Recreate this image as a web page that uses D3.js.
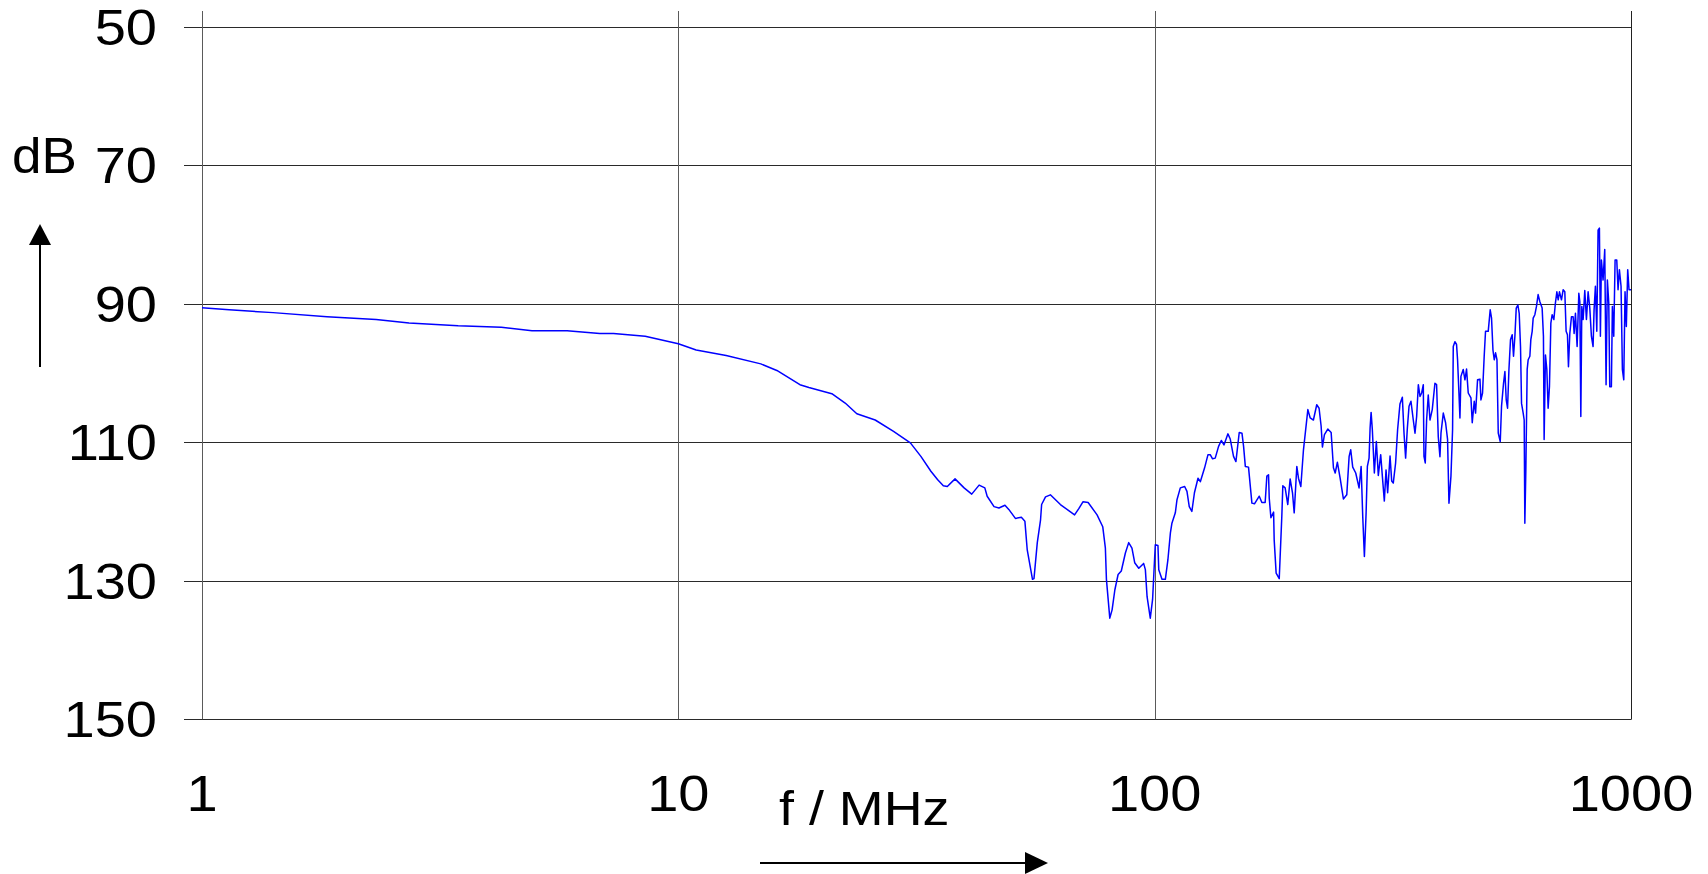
<!DOCTYPE html>
<html>
<head>
<meta charset="utf-8">
<script src="https://cdn.jsdelivr.net/npm/d3@7"></script>
<style>
    body { margin: 0; background: #fff; }
    text { font-family: "Liberation Sans", Arial, sans-serif; fill: #000; }
</style>
</head>
<body>
<div id="chart"></div>
<script>
// measured spectrum, f in MHz / level in dB
var freqMHz = [
    1, 1.14, 1.41, 1.83, 2.32, 2.72, 3.45, 4.25, 4.93, 5.84, 6.84, 7.31, 8.52, 10.0, 10.9, 12.6, 14.9, 16.1, 18.0, 18.8,
    21.0, 22.4, 23.7, 25.9, 28.3, 30.7, 32.3, 33.9, 35.0, 36.0, 36.7, 38.1, 39.8, 41.3, 42.8, 44.0, 44.5, 46.0, 47.1, 48.5,
    49.4, 51.0, 52.5, 53.4, 54.0, 55.4, 55.8, 56.7, 57.6, 57.9, 59.0, 60.4, 63.4, 67.9, 69.3, 70.7, 72.5, 75.7, 77.8, 78.8,
    79.2, 80.5, 81.4, 82.5, 83.8, 85.1, 86.8, 88.2, 89.6, 90.8, 92.6, 94.8, 95.6, 96.4, 97.9, 99.0, 100.3, 101.6, 102.0, 103.6,
    105.3, 106.6, 107.9, 108.7, 110.5, 111.4, 113.2, 115.6, 116.9, 118.2, 119.7, 121.2, 123.3, 124.7, 127.3, 129.4, 130.8, 132.3, 134.0, 136.2,
    138.0, 139.8, 142.5, 144.1, 146.4, 148.1, 150.5, 152.5, 153.7, 155.0, 157.4, 160.0, 162.0, 165.8, 167.9, 170.6, 172.0, 173.4, 174.0, 175.4,
    177.7, 178.2, 179.9, 182.6, 184.9, 185.8, 187.9, 190.3, 192.5, 194.7, 196.3, 198.8, 200.4, 202.7, 205.3, 209.7, 212.1, 215.4, 218.9, 221.4,
    223.6, 225.0, 227.2, 230.9, 234.7, 237.3, 239.3, 241.9, 245.1, 249.0, 253.1, 256.0, 258.0, 260.5, 264.3, 268.6, 271.3, 273.4, 275.6, 277.9,
    279.6, 281.9, 283.3, 284.7, 286.4, 289.2, 292.0, 294.8, 298.2, 300.6, 303.5, 306.0, 308.4, 312.0, 314.5, 316.9, 320.5, 323.6, 327.3, 331.1,
    333.8, 336.4, 339.2, 342.0, 345.2, 349.1, 352.0, 354.8, 357.7, 360.6, 363.5, 366.4, 367.6, 369.9, 372.3, 375.3, 378.4, 382.6, 387.6, 390.7,
    393.9, 397.1, 399.1, 403.6, 408.1, 412.0, 414.8, 418.8, 422.1, 423.5, 426.9, 430.3, 432.4, 435.3, 437.4, 439.5, 444.4, 448.1, 451.6, 455.3,
    461.3, 464.2, 468.7, 471.7, 476.3, 481.8, 484.1, 487.9, 491.8, 495.0, 501.5, 506.3, 509.6, 513.1, 516.3, 519.6, 523.1, 526.4, 531.5, 534.8,
    540.0, 543.6, 547.1, 550.6, 554.3, 558.5, 563.1, 566.7, 570.5, 574.2, 578.8, 582.5, 586.2, 589.1, 593.8, 596.7, 598.6, 601.5, 605.4, 608.3,
    613.3, 616.2, 620.2, 623.2, 628.3, 633.2, 638.3, 643.5, 650.8, 654.9, 657.1, 661.3, 665.7, 669.9, 674.2, 678.8, 683.1, 688.7, 694.0, 698.8,
    703.3, 707.7, 714.5, 720.3, 726.2, 730.8, 735.5, 739.1, 744.0, 749.9, 755.9, 759.6, 764.5, 770.7, 777.1, 780.8, 784.6, 788.4, 793.4, 799.8,
    806.2, 812.8, 819.4, 825.8, 832.5, 836.5, 841.9, 847.6, 852.9, 858.4, 862.5, 866.7, 873.7, 880.8, 886.5, 892.1, 898.1, 902.4, 909.5, 913.9,
    920.0, 926.0, 933.5, 939.3, 945.4, 953.0, 959.2, 965.6, 971.6, 977.7, 984.2, 990.5, 1000
];
var levelDb = [
    90.6, 90.9, 91.3, 91.9, 92.3, 92.8, 93.2, 93.4, 93.9, 93.9, 94.3, 94.3, 94.7, 95.8, 96.7, 97.5, 98.7, 99.65, 101.7, 102.1,
    103.0, 104.35, 105.9, 106.8, 108.45, 110.1, 112.05, 114.2, 115.4, 116.3, 116.4, 115.3, 116.6, 117.5, 116.2, 116.6, 117.8, 119.3, 119.5, 119.1,
    119.7, 121.0, 120.85, 121.4, 125.5, 129.8, 129.7, 124.5, 121.2, 119.0, 117.9, 117.6, 119.0, 120.5, 119.6, 118.6, 118.7, 120.5, 122.2, 125.3,
    129.8, 135.4, 134.2, 131.3, 129.1, 128.6, 126.0, 124.5, 125.3, 127.4, 128.2, 127.5, 128.4, 132.3, 135.4, 132.7, 124.8, 124.9, 128.4, 129.8,
    129.8, 127.0, 123.1, 121.7, 120.2, 118.3, 116.6, 116.4, 117.1, 119.3, 120.0, 117.3, 115.2, 115.7, 113.7, 111.8, 111.8, 112.4, 112.3, 110.6,
    109.75, 110.4, 108.8, 109.55, 112.05, 112.8, 108.6, 108.7, 110.6, 113.5, 113.6, 118.8, 118.9, 117.8, 118.7, 118.7, 114.9, 114.7, 118.1, 120.9,
    120.1, 124.1, 128.9, 129.7, 120.7, 116.3, 116.6, 119.0, 115.3, 117.3, 120.2, 113.5, 115.2, 116.4, 111.1, 105.3, 106.5, 106.8, 104.6, 105.1,
    107.7, 110.7, 108.9, 108.1, 108.6, 113.7, 114.45, 112.9, 115.2, 118.2, 117.6, 112.05, 111.1, 113.6, 114.45, 116.6, 113.5, 120.7, 126.5, 120.2,
    113.5, 112.3, 108.0, 105.7, 108.2, 114.45, 109.9, 114.8, 111.8, 114.9, 118.5, 114.0, 117.3, 112.0, 115.6, 115.9, 113.0, 108.2, 104.5, 103.5,
    108.7, 112.3, 108.0, 104.8, 104.1, 106.8, 108.7, 106.3, 101.7, 103.4, 102.9, 101.7, 112.05, 113.0, 106.8, 103.2, 106.8, 105.3, 101.5, 101.7,
    109.2, 112.1, 108.7, 105.8, 107.2, 109.6, 118.8, 114.9, 108.2, 96.2, 95.5, 95.9, 98.1, 102.9, 106.5, 100.5, 99.5, 101.0, 99.45, 102.9,
    103.6, 107.2, 104.1, 105.8, 101.0, 100.9, 103.9, 102.9, 97.6, 94.0, 94.0, 90.9, 92.1, 96.7, 98.1, 97.1, 98.1, 108.7, 109.9, 104.8,
    101.5, 99.8, 103.9, 105.1, 99.5, 95.2, 94.5, 97.6, 94.7, 90.65, 90.2, 91.4, 96.2, 104.4, 105.8, 106.8, 121.7, 114.0, 99.5, 98.1,
    97.6, 95.2, 94.0, 92.1, 91.6, 90.4, 88.7, 89.7, 90.65, 94.7, 109.6, 97.4, 99.5, 105.1, 102.0, 92.8, 91.6, 92.3, 89.9, 88.3,
    89.45, 88.3, 89.45, 88.0, 88.3, 94.0, 94.5, 99.1, 94.3, 91.9, 91.9, 94.3, 91.4, 96.2, 88.5, 89.7, 106.3, 90.4, 92.3, 88.1,
    92.3, 88.3, 90.65, 94.7, 96.2, 90.9, 87.5, 94.0, 79.4, 79.1, 94.7, 83.7, 86.6, 82.2, 101.7, 86.6, 89.9, 102.0, 102.0, 90.4,
    94.7, 83.7, 83.7, 88.0, 85.1, 87.5, 99.5, 101.0, 88.3, 93.3, 85.1, 88.0, 88.0
];

var xTicks = [1, 10, 100, 1000];
var yTicks = [50, 70, 90, 110, 130, 150];

(function () {
    var W = 1708, H = 874;
    var margin = {top: 26.5, right: 77, bottom: 154.7, left: 202};
    var width = W - margin.left - margin.right,
        height = H - margin.top - margin.bottom;

    var x = d3.scaleLog().domain([1, 1000]).range([margin.left, margin.left + width]);
    var y = d3.scaleLinear().domain([50, 150]).range([margin.top, margin.top + height]);

    var fontSize = 50.5, stretch = 1.11;

    var svg = d3.select("#chart").append("svg")
        .attr("width", W)
        .attr("height", H)
        .style("display", "block");

    svg.append("rect").attr("width", W).attr("height", H).attr("fill", "#fff");

    // horizontal grid (runs a bit past the left axis, like ticks)
    svg.append("g")
        .selectAll("line")
        .data(yTicks)
        .join("line")
        .attr("x1", margin.left - 18)
        .attr("x2", x(1000) + 0.5)
        .attr("y1", function (d) { return Math.round(y(d)) + 0.5; })
        .attr("y2", function (d) { return Math.round(y(d)) + 0.5; })
        .attr("stroke", "#2a2a2a")
        .attr("stroke-width", 1);

    // vertical grid, poking out above the top line
    svg.append("g")
        .selectAll("line")
        .data(xTicks)
        .join("line")
        .attr("x1", function (d) { return Math.round(x(d)) + 0.5; })
        .attr("x2", function (d) { return Math.round(x(d)) + 0.5; })
        .attr("y1", 11)
        .attr("y2", y(150))
        .attr("stroke", function (d) { return d === 1000 ? "#222" : "#5a5a5a"; })
        .attr("stroke-width", 1);

    // spectrum
    var pts = freqMHz.map(function (f, i) { return {f: f, v: levelDb[i]}; });
    var line = d3.line()
        .x(function (d) { return x(d.f); })
        .y(function (d) { return y(d.v); });

    svg.append("path")
        .datum(pts)
        .attr("d", line)
        .attr("fill", "none")
        .attr("stroke", "#0000ff")
        .attr("stroke-width", 1.5)
        .attr("stroke-linejoin", "round");

    // y tick labels
    svg.append("g")
        .selectAll("text")
        .data(yTicks)
        .join("text")
        .attr("transform", function (d) {
            return "translate(157," + (y(d) + 18) + ") scale(" + stretch + ",1)";
        })
        .attr("text-anchor", "end")
        .style("font-size", fontSize + "px")
        .text(function (d) { return d; });

    // x tick labels
    svg.append("g")
        .selectAll("text")
        .data(xTicks)
        .join("text")
        .attr("transform", function (d) {
            return "translate(" + x(d) + ",811) scale(" + stretch + ",1)";
        })
        .attr("text-anchor", "middle")
        .style("font-size", fontSize + "px")
        .text(function (d) { return d; });

    // axis titles
    svg.append("text")
        .attr("transform", "translate(12,173) scale(1.05,1)")
        .style("font-size", fontSize + "px")
        .text("dB");

    svg.append("text")
        .attr("transform", "translate(779,825) scale(" + stretch + ",1)")
        .style("font-size", "48.5px")
        .text("f / MHz");

    // arrows
    svg.append("line")
        .attr("x1", 40).attr("x2", 40)
        .attr("y1", 367).attr("y2", 244)
        .attr("stroke", "#000").attr("stroke-width", 2);
    svg.append("path")
        .attr("d", "M40,224 L51,245 L29,245 Z")
        .attr("fill", "#000");

    svg.append("line")
        .attr("x1", 760).attr("x2", 1026)
        .attr("y1", 863).attr("y2", 863)
        .attr("stroke", "#000").attr("stroke-width", 2);
    svg.append("path")
        .attr("d", "M1048,863 L1025,852 L1025,874 Z")
        .attr("fill", "#000");
}());
</script>
</body>
</html>
